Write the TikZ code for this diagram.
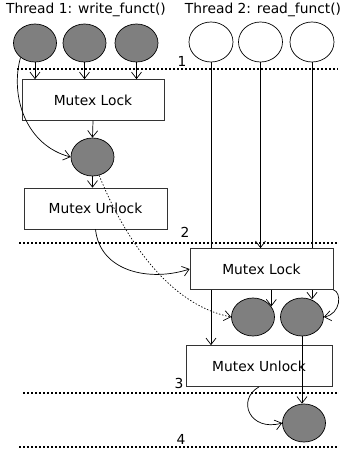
\documentclass[tikz,border=0pt]{standalone}
\usepackage{fontspec}
\setmainfont{DejaVu Sans}
\usepackage{xcolor}
\definecolor{TokenGray}{HTML}{7F7F7F}
\definecolor{EdgeGray}{HTML}{333333}
\usepackage{tikz}
\usetikzlibrary{arrows.meta, shapes.geometric, backgrounds}

\begin{document}
\begin{tikzpicture}[
  x=1pt, y=-1pt,
  every node/.style={font=\fontsize{13.8}{16}\selectfont},
  token/.style={ellipse, draw=black, fill=TokenGray, line width=0.7pt,
    minimum width=43pt, minimum height=38pt, inner sep=0pt},
  reader/.style={ellipse, draw=black, fill=white, line width=0.7pt,
    minimum width=44pt, minimum height=40pt, inner sep=0pt},
  lockbox/.style={rectangle, draw=EdgeGray, fill=white, line width=0.7pt,
    minimum width=#1, minimum height=41pt, inner sep=0pt},
  flow/.style={-{Straight Barb[length=6.5pt,width=10pt]}, line width=0.7pt},
  hint/.style={flow, dash pattern=on 1.4pt off 1.8pt},
  sep/.style={line width=1.6pt, dash pattern=on 1.8pt off 2.2pt},
]
\useasboundingbox (0,0) rectangle (340,455);

%% -- Thread headers ---------------------------------------------
\node at (86,10) (t1) {Thread 1: write\_funct()};
\node at (263,10) (t2) {Thread 2: read\_funct()};

%% -- Writer and reader requests ---------------------------------
\node[token] at (35,43)    (g1) {};
\node[token] at (84.5,43)  (g2) {};
\node[token] at (136.5,43) (g3) {};

\node[reader] at (211,42)   (r1) {};
\node[reader] at (260.5,42) (r2) {};
\node[reader] at (312,42)   (r3) {};

%% -- Critical sections ------------------------------------------
\node[lockbox=142pt] at (93,100)    (lock1)   {Mutex Lock};
\node[token]         at (92.5,157)  (g4)      {};
\node[lockbox=143pt] at (95.5,208.5) (unlock1) {Mutex Unlock};

\node[lockbox=143pt] at (261.5,269) (lock2)   {Mutex Lock};
\node[token]         at (253,317)   (g5)      {};
\node[token]         at (302,317)   (g6)      {};
\node[lockbox=146pt] at (259,366)   (unlock2) {Mutex Unlock};
\node[token]         at (304,423)   (g7)      {};

%% -- Time steps ---------------------------------------------------
\draw[sep] (17,69) -- (338,69);
\draw[sep] (19,243) -- (338,243);
\draw[sep] (23,393) -- (338,393);
\draw[sep] (19,447) -- (338,447);
\node at (182,61)  (s1) {1};
\node at (185,232) (s2) {2};
\node at (179,383) (s3) {3};
\node at (181,439) (s4) {4};

%% Writer flow
\foreach \g in {g1,g2,g3}
  \draw[flow] (\g.south) -- (\g.south |- lock1.north);
\draw[flow] (g1.225) .. controls (10,95) and (25,145) .. (g4.west);
\draw[flow] (lock1.south) -- (g4.north);
\draw[flow] (g4.south) -- (g4.south |- unlock1.north);
\draw[flow] (unlock1.south) .. controls (100,272) and (150,282) .. (lock2.west);
\draw[hint] (g4.290) .. controls (125,240) and (170,305) .. (g5.west);

%% Reader flow
\begin{scope}[on background layer]
  \draw[flow] (r1.south) -- (r1.south |- unlock2.north);
  \draw[flow] (r3.south) -- (r3.south |- g6.63);
\end{scope}
\draw[flow] (r2.south) -- (r2.south |- lock2.north);
\draw[flow] (g5.30 |- lock2.south) -- (g5.30);
\draw[flow] (lock2.south east) .. controls (342,292) and (341,314) .. (g6.east);
\draw[flow] (g6.south) -- (g6.south |- g7.north);
\draw[flow] (unlock2.south) .. controls (236,400) and (250,432) .. (g7.west);

\end{tikzpicture}
\end{document}
